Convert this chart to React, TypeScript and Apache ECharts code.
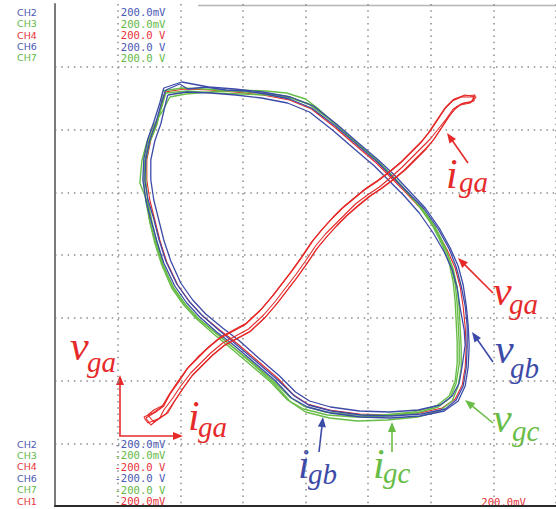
import React, { useEffect, useRef } from "react";
import * as echarts from "echarts";

// Oscilloscope XY capture; 1 division = 62.75 raw units, origin at screen centre
const DIV = 62.75;

const topChannels = ["CH2", "CH3", "CH4", "CH6", "CH7"];
const topScales = ["200.0mV", "200.0mV", "200.0 V", "200.0 V", "200.0 V"];
const bottomChannels = ["CH2", "CH3", "CH4", "CH6", "CH7", "CH1"];
const bottomScales = ["-200.0mV", "-200.0mV", "-200.0 V", "-200.0 V", "-200.0 V", "-200.0mV"];
const channelColors: Record<string, string> = {
  CH1: "#e8333a", CH2: "#4a58b5", CH3: "#64b946", CH4: "#e8333a", CH6: "#4a58b5", CH7: "#64b946",
};
const xScaleLabel = "200.0mV";

// gate voltage loop (thin red inside the bundle)
const vgaLoop = [
  [-141, 163], [-121, 166], [-96, 165], [-71, 163], [-43, 160], [-16, 155], [6, 146], [29, 128], [51, 109], [71, 92],
  [86, 77], [101, 62], [117, 45], [131, 25], [142, 5], [150, -13], [155, -32], [158, -52], [160, -72], [161, -92],
  [160, -112], [157, -130], [150, -144], [137, -153], [114, -158], [84, -160], [54, -159], [24, -155], [2, -149], [-12, -140],
  [-28, -123], [-49, -105], [-69, -88], [-86, -75], [-103, -61], [-116, -47], [-128, -30], [-139, -7], [-146, 15], [-151, 35],
  [-156, 55], [-159, 75], [-159, 95], [-155, 115], [-149, 132], [-144, 150],
];

const blueLoop1 = [
  [-142, 167], [-124, 173], [-97, 168], [-71, 166], [-43, 163], [-15, 158], [8, 149], [31, 131], [53, 112], [73, 95],
  [89, 80], [104, 64], [120, 47], [134, 27], [145, 7], [153, -11], [158, -30], [161, -50], [163, -70], [164, -91],
  [163, -112], [160, -131], [153, -146], [139, -156], [115, -161], [85, -163], [55, -162], [25, -158], [2, -152], [-14, -143],
  [-31, -125], [-52, -107], [-72, -90], [-89, -77], [-106, -62], [-119, -48], [-131, -31], [-142, -8], [-149, 14], [-155, 35],
  [-160, 55], [-163, 75], [-162, 96], [-158, 116], [-152, 133], [-146, 152],
];
const blueLoop2 = [
  [-138, 160], [-119, 163], [-95, 162], [-70, 160], [-44, 157], [-18, 152], [4, 143], [27, 125], [49, 106], [69, 89],
  [84, 74], [99, 59], [114, 42], [128, 22], [139, 3], [147, -15], [152, -33], [155, -53], [159, -75], [160, -90],
  [157, -111], [154, -128], [147, -141], [135, -150], [113, -155], [84, -157], [54, -156], [25, -152], [4, -146], [-10, -137],
  [-26, -121], [-47, -103], [-66, -86], [-83, -73], [-100, -59], [-113, -45], [-125, -28], [-135, -6], [-142, 15], [-147, 35],
  [-152, 55], [-155, 75], [-155, 95], [-151, 114], [-145, 131], [-141, 148],
];
const blueLoop3 = [
  [-140, 165], [-126, 171], [-118, 166], [-100, 168], [-80, 165], [-60, 164], [-40, 161], [-16, 156], [6, 147], [30, 129],
  [52, 110], [72, 93], [87, 78], [102, 63], [119, 46], [133, 26], [144, 6], [151, -12], [156, -31], [160, -51],
  [162, -71], [162, -92], [161, -113], [158, -131], [151, -145], [140, -154], [116, -159], [86, -161], [56, -160], [26, -156],
  [3, -150], [-11, -141], [-29, -124], [-50, -106], [-70, -89], [-87, -75], [-104, -60], [-117, -46], [-129, -29], [-140, -6],
  [-147, 16], [-152, 36], [-158, 56], [-161, 75], [-160, 96], [-156, 115], [-150, 132], [-145, 150],
];

const greenLoop1 = [
  [-136, 158], [-120, 161], [-96, 163], [-66, 165], [-40, 164], [-19, 162], [0, 156], [12, 147], [32, 129], [53, 110],
  [73, 93], [88, 78], [103, 62], [118, 44], [131, 24], [141, 4], [148, -14], [152, -33], [154, -53], [155, -73],
  [156, -93], [156, -113], [153, -131], [147, -146], [134, -156], [112, -162], [82, -165], [52, -166], [24, -163], [0, -157],
  [-15, -147], [-32, -128], [-53, -109], [-73, -92], [-90, -78], [-107, -64], [-120, -50], [-132, -33], [-143, -10], [-150, 12],
  [-156, 33], [-158, 52], [-166, 72], [-164, 94], [-159, 113], [-152, 130], [-142, 146],
];
const greenLoop2 = [
  [-140, 162], [-118, 164], [-92, 162], [-64, 161], [-38, 160], [-14, 157], [6, 150], [28, 133], [50, 113], [70, 96],
  [85, 81], [100, 65], [116, 48], [130, 28], [140, 8], [146, -10], [150, -29], [152, -49], [153, -69], [154, -89],
  [154, -109], [151, -128], [145, -143], [133, -152], [111, -158], [80, -161], [50, -162], [22, -160], [-2, -154], [-18, -145],
  [-35, -127], [-55, -110], [-75, -93], [-92, -79], [-109, -64], [-122, -50], [-134, -33], [-144, -10], [-151, 12], [-156, 33],
  [-160, 54], [-162, 74], [-161, 94], [-157, 114], [-150, 131], [-144, 148],
];
const greenLoop3 = [
  [-143, 164], [-124, 167], [-100, 166], [-74, 164], [-46, 162], [-20, 159], [3, 151], [26, 134], [48, 115], [68, 98],
  [83, 83], [98, 67], [113, 50], [127, 30], [137, 10], [144, -8], [148, -27], [150, -47], [151, -67], [152, -88],
  [152, -108], [150, -126], [144, -141], [131, -151], [108, -157], [78, -160], [48, -160], [20, -157], [-2, -151], [-16, -142],
  [-33, -125], [-54, -107], [-74, -91], [-91, -77], [-108, -63], [-121, -49], [-133, -32], [-143, -9], [-149, 13], [-154, 34],
  [-158, 54], [-160, 74], [-160, 94], [-156, 113], [-149, 130], [-145, 147],
];

// i_ga vs v_ga narrow loops (red diagonal)
const igaLoop1 = [
  [-162, -162], [-153, -158], [-144, -152], [-137, -140], [-129, -128], [-119, -114], [-109, -104], [-99, -94], [-87, -84], [-74, -77],
  [-61, -70], [-46, -56], [-34, -42], [-24, -29], [-14, -16], [-4, -2], [6, 13], [16, 25], [26, 36], [36, 46],
  [48, 56], [59, 65], [71, 73], [83, 82], [95, 92], [105, 102], [115, 112], [123, 122], [131, 134], [139, 146],
  [147, 154], [156, 158], [168, 158], [169, 154], [158, 152], [151, 148], [145, 140], [137, 128], [129, 116], [121, 106],
  [111, 96], [101, 86], [89, 76], [77, 67], [65, 59], [54, 50], [42, 40], [32, 30], [22, 19], [12, 7],
  [2, -8], [-8, -22], [-18, -35], [-28, -48], [-40, -62], [-55, -76], [-68, -83], [-81, -90], [-93, -100], [-103, -110],
  [-113, -120], [-123, -134], [-131, -146], [-138, -158], [-148, -164], [-158, -168],
];
const igaLoop2 = [
  [-160, -163], [-150, -157], [-142, -151], [-136, -139], [-127, -127], [-118, -113], [-108, -102], [-98, -93], [-86, -83], [-73, -76],
  [-60, -69], [-45, -55], [-33, -41], [-23, -28], [-13, -15], [-3, -1], [7, 14], [17, 26], [27, 37], [37, 47],
  [49, 57], [60, 66], [72, 74], [84, 83], [96, 93], [106, 103], [116, 113], [124, 123], [132, 135], [140, 147],
  [148, 155], [158, 159], [170, 160], [166, 153], [156, 151], [150, 146], [143, 138], [136, 127], [128, 115], [119, 105],
  [109, 95], [99, 85], [87, 75], [75, 66], [63, 58], [52, 49], [41, 39], [31, 29], [21, 18], [11, 6],
  [1, -9], [-9, -23], [-19, -36], [-29, -49], [-41, -63], [-56, -77], [-69, -84], [-82, -91], [-94, -101], [-104, -111],
  [-114, -121], [-124, -135], [-132, -147], [-140, -159], [-150, -166], [-155, -170],
];
const igaLoop3 = [
  [-158, -160], [-152, -155], [-142, -150], [-135, -138], [-127, -126], [-117, -112], [-107, -102], [-97, -92], [-85, -82], [-72, -75],
  [-59, -68], [-44, -54], [-32, -40], [-22, -27], [-12, -14], [-2, 0], [8, 15], [18, 27], [28, 38], [38, 48],
  [50, 58], [61, 67], [73, 75], [85, 84], [97, 94], [107, 104], [117, 114], [125, 124], [133, 136], [141, 148],
  [149, 156], [160, 160], [171, 158], [165, 152], [155, 150], [148, 146], [141, 136], [133, 126], [125, 116], [117, 108],
  [107, 98], [97, 88], [86, 78], [74, 68], [62, 60], [50, 51], [40, 41], [30, 31], [20, 21], [10, 9],
  [0, -6], [-10, -20], [-20, -33], [-30, -46], [-42, -60], [-57, -74], [-70, -81], [-83, -88], [-95, -98], [-105, -108],
  [-115, -118], [-125, -131], [-133, -143], [-142, -155], [-146, -163], [-152, -167],
];

const RED = "#e62a2a";
const BLUE = "#3c4ba8";
const GREEN = "#68bd47";

const closeLoop = (pts: number[][]) => [...pts, pts[0]];

function arrow(x1: number, y1: number, x2: number, y2: number, color: string) {
  const dx = x2 - x1, dy = y2 - y1, L = Math.hypot(dx, dy);
  const ux = dx / L, uy = dy / L;
  const hl = 10, hw = 4;
  const bx = x2 - ux * hl, by = y2 - uy * hl;
  return [
    { type: "line", shape: { x1, y1, x2: bx + ux * 2, y2: by + uy * 2 }, style: { stroke: color, lineWidth: 1.6 } },
    {
      type: "polygon",
      shape: { points: [[x2, y2], [bx - uy * hw, by + ux * hw], [bx + uy * hw, by - ux * hw]] },
      style: { fill: color },
    },
  ];
}

function symLabel(main: string, sub: string, x: number, base: number, sx: number, sbase: number, color: string) {
  return [
    {
      type: "text", x, y: base - 0.3375 * 42,
      style: { text: main, font: 'italic 42px "Liberation Serif"', fill: color, align: "left", verticalAlign: "middle" },
    },
    {
      type: "text", x: sx, y: sbase - 0.3375 * 29,
      style: { text: sub, font: 'italic 29px "Liberation Serif"', fill: color, align: "left", verticalAlign: "middle" },
    },
  ];
}

export default function App() {
  const ref = useRef<HTMLDivElement>(null);
  useEffect(() => {
    if (!ref.current) return;
    const chart = echarts.init(ref.current, undefined, { renderer: "svg" });

    const mkSeries = (data: number[][], color: string, width: number, z: number) => ({
      type: "line",
      data: closeLoop(data),
      showSymbol: false,
      symbol: "none",
      silent: true,
      z,
      lineStyle: { color, width },
    });

    const graphics: any[] = [];
    // top border segment
    graphics.push({ type: "line", shape: { x1: 198, y1: 5.5, x2: 556, y2: 5.5 }, style: { stroke: "#b5b5b5", lineWidth: 1.5 } });
    const chFont = '9.5px "DejaVu Sans"';
    const valFont = '10.6px "DejaVu Sans Mono"';
    topChannels.forEach((c, i) => {
      const y = 12.3 + i * 11.4;
      graphics.push({ type: "text", x: 17, y, style: { text: c, font: chFont, fill: channelColors[c], align: "left", verticalAlign: "middle" } });
      graphics.push({ type: "text", x: 165.5, y, style: { text: topScales[i], font: valFont, fill: channelColors[c], align: "right", verticalAlign: "middle" } });
    });
    bottomChannels.forEach((c, i) => {
      const y = 444 + i * 11.4;
      graphics.push({ type: "text", x: 17, y, style: { text: c, font: chFont, fill: channelColors[c], align: "left", verticalAlign: "middle" } });
      graphics.push({ type: "text", x: 165.5, y, style: { text: bottomScales[i], font: valFont, fill: channelColors[c], align: "right", verticalAlign: "middle" } });
    });
    graphics.push({ type: "text", x: 526, y: 502, style: { text: xScaleLabel, font: valFont, fill: channelColors.CH1, align: "right", verticalAlign: "middle" } });

    // annotation arrows
    graphics.push(...arrow(468, 163, 447, 133, RED));
    graphics.push(...arrow(493, 293, 458, 258, RED));
    graphics.push(...arrow(493, 362, 472, 332, BLUE));
    graphics.push(...arrow(493, 423, 465, 400, GREEN));
    graphics.push(...arrow(319, 452, 323, 417, BLUE));
    graphics.push(...arrow(392, 452, 392, 422, GREEN));
    graphics.push(...arrow(120, 436, 120, 375, RED));
    graphics.push(...arrow(119.2, 436, 183, 436, RED));

    // annotation symbols
    graphics.push(...symLabel("i", "ga", 446, 188, 459, 192, RED));
    graphics.push(...symLabel("v", "ga", 493, 305, 509, 314, RED));
    graphics.push(...symLabel("v", "gb", 495, 363, 510, 378, BLUE));
    graphics.push(...symLabel("v", "gc", 493, 432, 512, 441, GREEN));
    graphics.push(...symLabel("i", "gb", 298, 478, 308, 484, BLUE));
    graphics.push(...symLabel("i", "gc", 373, 478, 383, 483, GREEN));
    graphics.push(...symLabel("v", "ga", 70, 360, 87, 372, RED));
    graphics.push(...symLabel("i", "ga", 188, 430, 198, 437, RED));

    const dotted = { color: "#8c8c8c", width: 1.5, type: [1.5, 4.8] as any };

    chart.setOption({
      animation: false,
      backgroundColor: "#ffffff",
      grid: { left: 55, top: 4, width: 4 * 2 * DIV, height: 4 * 2 * DIV, containLabel: false },
      xAxis: {
        type: "value", min: -4 * DIV, max: 4 * DIV, interval: DIV,
        axisLabel: { show: false }, axisTick: { show: false },
        axisLine: { show: true, onZero: false, lineStyle: { color: "#2a2a2a", width: 2 } },
        splitLine: { show: true, lineStyle: dotted, showMinLine: false },
      },
      yAxis: {
        type: "value", min: -4 * DIV, max: 4 * DIV, interval: DIV,
        axisLabel: { show: false }, axisTick: { show: false },
        axisLine: { show: true, onZero: false, lineStyle: { color: "#7a7a7a", width: 2 } },
        splitLine: { show: true, lineStyle: dotted, showMaxLine: false, showMinLine: false },
      },
      series: [
        mkSeries(vgaLoop, RED, 1.1, 2),
        mkSeries(greenLoop1, GREEN, 1.4, 3),
        mkSeries(greenLoop2, GREEN, 1.4, 3),
        mkSeries(greenLoop3, GREEN, 1.4, 3),
        mkSeries(blueLoop1, BLUE, 1.3, 4),
        mkSeries(blueLoop2, BLUE, 1.3, 4),
        mkSeries(blueLoop3, BLUE, 1.3, 4),
        mkSeries(igaLoop1, RED, 1.1, 5),
        mkSeries(igaLoop2, RED, 1.1, 5),
        mkSeries(igaLoop3, RED, 1.1, 5),
      ],
      graphic: { elements: graphics },
    });
    return () => chart.dispose();
  }, []);

  return (
    <div
      ref={ref}
      style={{ position: "absolute", left: 0, top: 0, width: 556, height: 509, background: "#fff" }}
    />
  );
}
